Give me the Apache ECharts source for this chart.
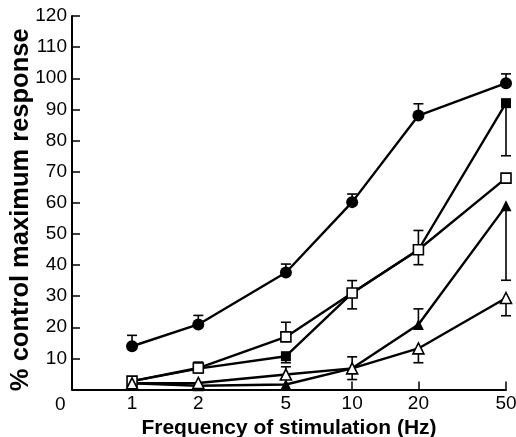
<!DOCTYPE html>
<html>
<head>
<meta charset="utf-8">
<script src="https://cdn.jsdelivr.net/npm/echarts@6/dist/echarts.min.js"></script>
<style>
  html, body { margin: 0; padding: 0; background: #fff; }
  #chart { width: 516px; height: 437px; }
</style>
</head>
<body>
<div id="chart"></div>
<script>
// frequencies (Hz), log spaced on the x axis
const freqs = [1, 2, 5, 10, 20, 50]
const xTickValues = [1, 2, 5, 10, 20, 50]

// % control maximum response
const filledCircle = [13.9, 20.9, 37.6, 60.2, 88.0, 98.4]
const filledSquare = [2.7, 6.7, 10.7, 31.0, 44.9, 92.0]
const openSquare = [2.7, 6.9, 16.9, 31.0, 44.9, 67.9]
const filledTriangle = [2.0, 1.2, 1.6, 6.8, 20.9, 59.0]
const openTriangle = [2.0, 2.1, 4.8, 6.8, 13.2, 29.4]

// one-sided error bars: [freq, from (mean), to (cap)]
const errorBars = [
  [1, 13.9, 17.4], [2, 20.9, 23.8], [5, 37.6, 40.3], [10, 60.2, 62.8], [20, 88.0, 91.8], [50, 98.4, 101.4],
  [5, 10.7, 8.6], [50, 92.0, 75.1],
  [2, 6.9, 8.8], [5, 16.9, 21.6], [10, 31.0, 35.0], [10, 31.0, 25.9], [20, 44.9, 51.1], [20, 44.9, 40.1],
  [10, 6.8, 10.5], [20, 20.9, 25.9], [50, 59.0, 35.1],
  [5, 4.8, 7.3], [10, 6.8, 3.2], [20, 13.2, 8.6], [50, 29.4, 23.7]
]

const chart = echarts.init(document.getElementById('chart'))

const pair = vals => freqs.map((f, i) => [f, vals[i]])

function lineSeries(name, vals, symbol, size, filled) {
  return {
    name: name,
    type: 'line',
    data: pair(vals),
    symbol: symbol,
    symbolSize: size,
    showAllSymbol: true,
    z: 3,
    lineStyle: { color: '#000', width: 2.4 },
    itemStyle: {
      color: filled ? '#000' : '#fff',
      borderColor: '#000',
      borderWidth: filled ? 0 : 1.6
    },
    emphasis: { disabled: true },
    animation: false
  }
}

chart.setOption({
  animation: false,
  grid: { left: 72, right: 10, top: 16, bottom: 47.5, outerBoundsMode: 'none', containLabel: false },
  xAxis: {
    type: 'log',
    logBase: 10,
    min: 0.5336,
    max: 50,
    axisLine: { lineStyle: { color: '#000', width: 2 } },
    axisTick: {
      show: true,
      inside: true,
      length: 8,
      customValues: xTickValues,
      lineStyle: { color: '#000', width: 1.5 }
    },
    axisLabel: {
      customValues: xTickValues,
      color: '#000',
      fontSize: 19,
      fontFamily: 'Liberation Sans',
      margin: 5
    },
    splitLine: { show: false },
    minorTick: { show: false },
    name: 'Frequency of stimulation (Hz)',
    nameLocation: 'middle',
    nameGap: 28,
    nameMoveOverlap: false,
    nameTextStyle: { color: '#000', fontSize: 21, fontWeight: 'bold', fontFamily: 'Liberation Sans' }
  },
  yAxis: {
    type: 'value',
    min: 0,
    max: 120,
    interval: 10,
    axisLine: { show: true, lineStyle: { color: '#000', width: 2 } },
    axisTick: { show: true, inside: true, length: 8, lineStyle: { color: '#000', width: 1.5 } },
    axisLabel: {
      color: '#000',
      fontSize: 19,
      fontFamily: 'Liberation Sans',
      margin: 5,
      formatter: v => (v === 0 ? '' : String(v))
    },
    splitLine: { show: false },
    name: '% control maximum response',
    nameLocation: 'middle',
    nameGap: 38,
    nameMoveOverlap: false,
    nameTextStyle: { color: '#000', fontSize: 25.5, fontWeight: 'bold', fontFamily: 'Liberation Sans', padding: [0, 14, 0, 0] }
  },
  graphic: [{
    type: 'text',
    left: 55,
    top: 395,
    style: { text: '0', fill: '#000', fontSize: 19, fontFamily: 'Liberation Sans' }
  }],
  series: [
    {
      type: 'custom',
      z: 1,
      data: errorBars,
      renderItem: function (params, api) {
        const from = api.coord([api.value(0), api.value(1)])
        const to = api.coord([api.value(0), api.value(2)])
        const half = 5
        return {
          type: 'group',
          children: [
            { type: 'line', shape: { x1: from[0], y1: from[1], x2: to[0], y2: to[1] }, style: { stroke: '#000', lineWidth: 1.6 } },
            { type: 'line', shape: { x1: to[0] - half, y1: to[1], x2: to[0] + half, y2: to[1] }, style: { stroke: '#000', lineWidth: 1.6 } }
          ]
        }
      },
      animation: false
    },
    lineSeries('filledCircle', filledCircle, 'circle', 12, true),
    lineSeries('filledSquare', filledSquare, 'rect', 10, true),
    lineSeries('openSquare', openSquare, 'rect', 10, false),
    lineSeries('filledTriangle', filledTriangle, 'triangle', 11, true),
    lineSeries('openTriangle', openTriangle, 'triangle', 11, false)
  ]
})
</script>
</body>
</html>
